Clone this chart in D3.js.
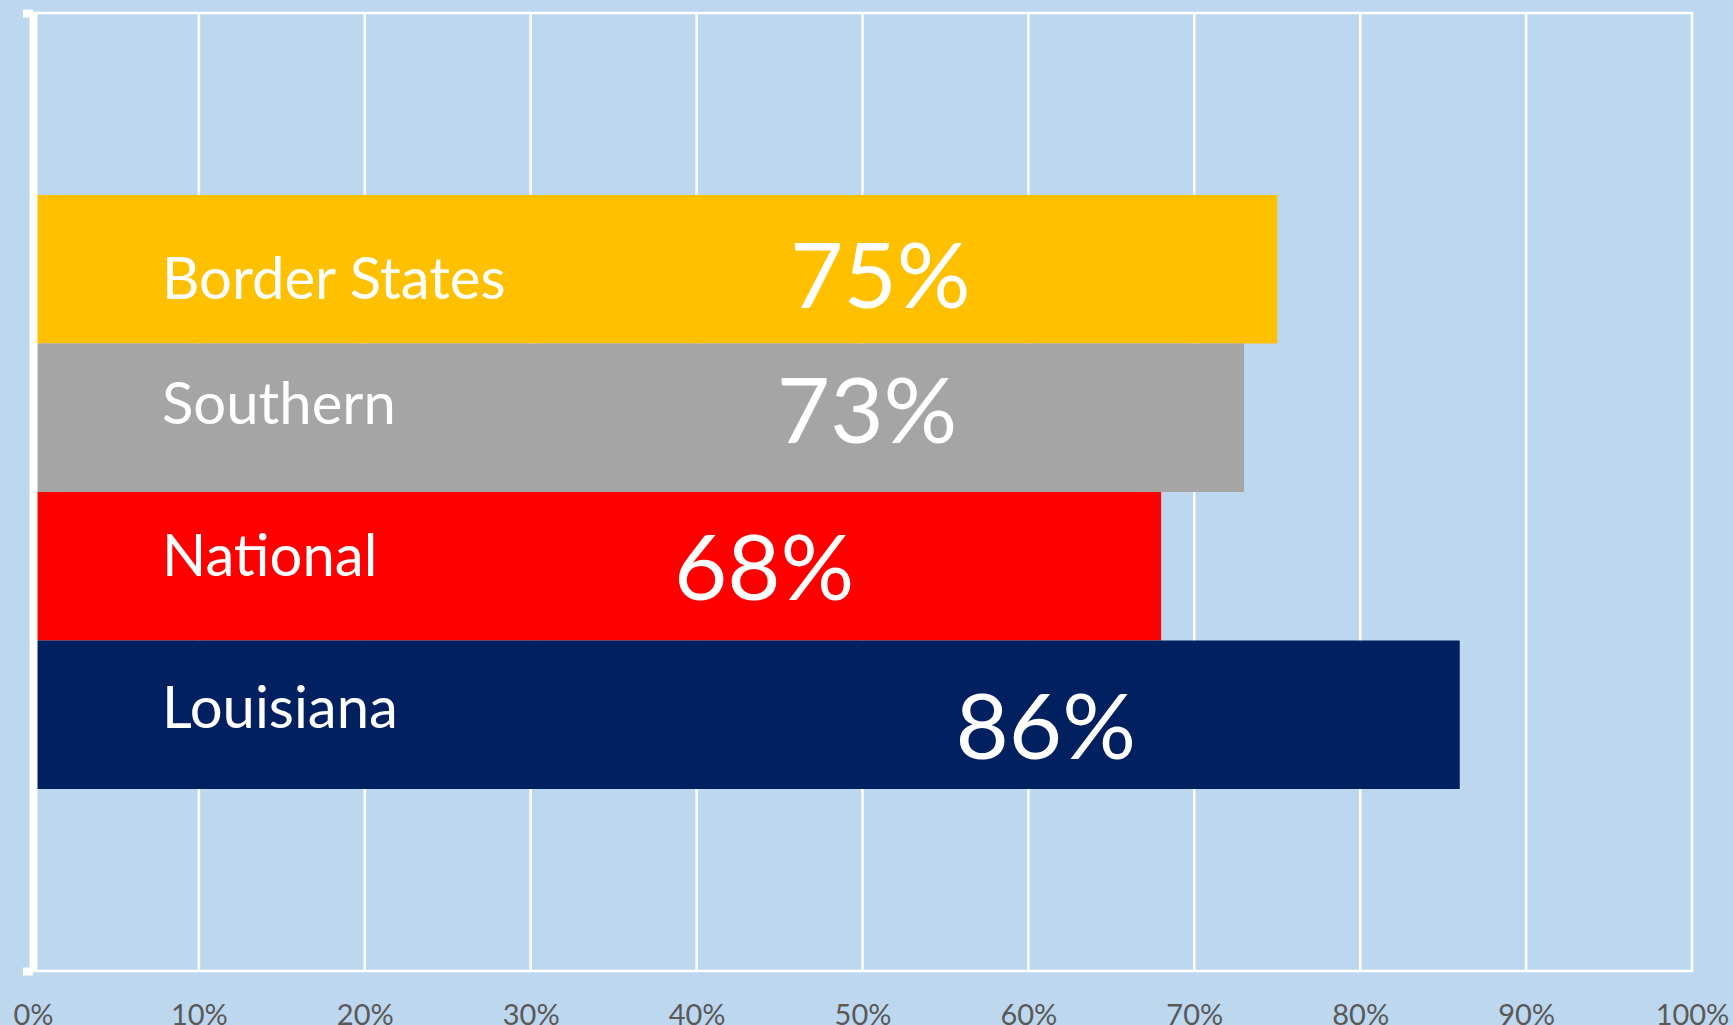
<!DOCTYPE html>
<html>
<head>
<meta charset="utf-8">
<script src="https://cdn.jsdelivr.net/npm/d3@7"></script>
<style>
  html, body { margin: 0; padding: 0; background: #BDD7EE; }
  svg { display: block; }
</style>
</head>
<body>
<div id="chart"></div>
<script>
// chart data
const categories = ["Border States", "Southern", "National", "Louisiana"];
const values = [0.75, 0.73, 0.68, 0.86];
const barColors = ["#FFC000", "#A5A5A5", "#FF0000", "#002060"];
const tickValues = [0, 0.1, 0.2, 0.3, 0.4, 0.5, 0.6, 0.7, 0.8, 0.9, 1.0];

function renderBarChart() {
    const width = 1733;
    const height = 1025;
    const plot = { left: 33, right: 1692, top: 13, bottom: 971 };

    // hand-placed label offsets in the original slide (px from bar centre / bar end)
    const nameDy = [30, 6, 10, 13];
    const valueDy = [39, 25, 34, 44];
    const valueDx = [397, 377, 397, 414];

    const svg = d3.select("#chart").append("svg")
        .attr("width", width)
        .attr("height", height)
        .style("font-family", "Lato, 'Open Sans', sans-serif");

    svg.append("rect")
        .attr("width", width)
        .attr("height", height)
        .attr("fill", "#BDD7EE");

    const x = d3.scaleLinear()
        .domain([0, 1])
        .range([plot.left, plot.right]);

    const y = d3.scaleBand()
        .domain(categories)
        .range([plot.top, plot.bottom])
        .paddingInner(0)
        .paddingOuter(1.2256);

    // vertical gridlines
    svg.append("g")
        .selectAll("line")
        .data(tickValues)
        .enter().append("line")
        .attr("x1", d => x(d))
        .attr("x2", d => x(d))
        .attr("y1", plot.top)
        .attr("y2", plot.bottom)
        .attr("stroke", "#fff")
        .attr("stroke-width", 2.5);

    // top and bottom border of plot area
    svg.append("g")
        .selectAll("line")
        .data([plot.top, plot.bottom])
        .enter().append("line")
        .attr("x1", plot.left)
        .attr("x2", plot.right + 1)
        .attr("y1", d => d)
        .attr("y2", d => d)
        .attr("stroke", "#fff")
        .attr("stroke-width", 2.5);

    const rows = categories.map((c, i) => ({ name: c, value: values[i], color: barColors[i], i: i }));

    svg.append("g")
        .selectAll("rect")
        .data(rows)
        .enter().append("rect")
        .attr("x", x(0))
        .attr("y", d => y(d.name))
        .attr("width", d => x(d.value) - x(0))
        .attr("height", y.bandwidth())
        .attr("fill", d => d.color);

    // category names inside bars
    svg.append("g")
        .selectAll("text")
        .data(rows)
        .enter().append("text")
        .attr("x", x(0) + 129)
        .attr("y", d => y(d.name) + y.bandwidth() / 2 + nameDy[d.i])
        .attr("fill", "#fff")
        .attr("font-size", 58)
        .text(d => d.name);

    // value labels
    svg.append("g")
        .selectAll("text")
        .data(rows)
        .enter().append("text")
        .attr("x", d => x(d.value) - valueDx[d.i])
        .attr("y", d => y(d.name) + y.bandwidth() / 2 + valueDy[d.i])
        .attr("text-anchor", "middle")
        .attr("fill", "#fff")
        .attr("font-size", 92)
        .text(d => d3.format(".0%")(d.value));

    // category axis (left)
    const yAxisScale = d3.scaleLinear().domain([0, 1]).range([plot.top, plot.bottom]);
    const yAxis = svg.append("g")
        .attr("transform", `translate(${plot.left},0)`)
        .call(d3.axisLeft(yAxisScale).tickValues([0, 1]).tickSize(10).tickSizeOuter(0).tickFormat(""));
    yAxis.select(".domain").attr("stroke", "#fff").attr("stroke-width", 8);
    yAxis.selectAll(".tick line").attr("stroke", "#fff").attr("stroke-width", 8);

    // value axis labels (bottom)
    const xAxis = svg.append("g")
        .attr("transform", `translate(0,${plot.bottom})`)
        .call(d3.axisBottom(x).tickValues(tickValues).tickSize(0).tickFormat(d3.format(".0%")));
    xAxis.select(".domain").remove();
    xAxis.selectAll("text")
        .attr("y", 54)
        .attr("dy", 0)
        .attr("fill", "#595959")
        .attr("font-size", 29)
        .attr("font-family", "Lato, 'Open Sans', sans-serif");
}

renderBarChart();
</script>
</body>
</html>
